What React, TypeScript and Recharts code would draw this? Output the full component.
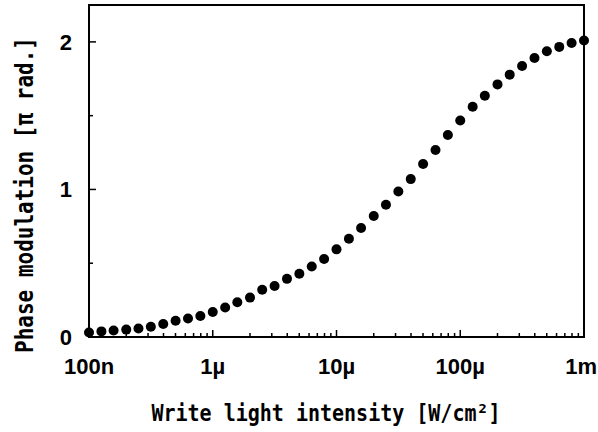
import { ScatterChart, Scatter, XAxis, YAxis, ReferenceArea } from "recharts";

// write light intensity [W/cm2], 10 points per decade
const intensity = [
  1.0e-7, 1.26e-7, 1.58e-7, 2.0e-7, 2.51e-7, 3.16e-7, 3.98e-7, 5.01e-7, 6.31e-7, 7.94e-7,
  1.0e-6, 1.26e-6, 1.58e-6, 2.0e-6, 2.51e-6, 3.16e-6, 3.98e-6, 5.01e-6, 6.31e-6, 7.94e-6,
  1.0e-5, 1.26e-5, 1.58e-5, 2.0e-5, 2.51e-5, 3.16e-5, 3.98e-5, 5.01e-5, 6.31e-5, 7.94e-5,
  1.0e-4, 1.26e-4, 1.58e-4, 2.0e-4, 2.51e-4, 3.16e-4, 3.98e-4, 5.01e-4, 6.31e-4, 7.94e-4,
  1.0e-3,
];

// phase modulation [pi rad.]
const phase = [
  0.03, 0.038, 0.044, 0.05, 0.058, 0.069, 0.088, 0.11, 0.125, 0.142,
  0.169, 0.2, 0.236, 0.267, 0.32, 0.346, 0.394, 0.429, 0.478, 0.529,
  0.594, 0.666, 0.739, 0.82, 0.896, 0.986, 1.07, 1.172, 1.267, 1.369,
  1.467, 1.56, 1.635, 1.712, 1.778, 1.837, 1.891, 1.937, 1.966, 1.993,
  2.01,
];

const xMajorTicks = [1e-7, 1e-6, 1e-5, 1e-4, 1e-3];
const xMajorLabels = ["100n", "1µ", "10µ", "100µ", "1m"];
const yTicks = [0, 0.5, 1, 1.5, 2];
const yLabels = ["0", "", "1", "", "2"];

const xMinorTicks = xMajorTicks
  .slice(0, -1)
  .flatMap((d) => [2, 3, 4, 5, 6, 7, 8, 9].map((m) => d * m));
const xTicks = [...xMajorTicks, ...xMinorTicks].sort((a, b) => a - b);

const data = intensity.map((x, i) => ({ x, y: phase[i] }));

const tickFont = "'Liberation Sans', Arial, sans-serif";
const titleFont = "'DejaVu Sans Mono', monospace";

const majorIndex = (v: number) =>
  xMajorTicks.findIndex((t) => Math.abs(t - v) / t < 1e-6);

// eslint-disable-next-line @typescript-eslint/no-explicit-any
const XTick = ({ x, y, payload }: any) => {
  const idx = majorIndex(payload.value);
  const major = idx >= 0;
  const last = idx === xMajorTicks.length - 1;
  return (
    <g>
      <line x1={x} x2={x} y1={y} y2={y - (major ? 7 : 4)} stroke="#000" strokeWidth={1.5} />
      {major && (
        <text
          x={last ? 597 : x}
          y={y + 37}
          textAnchor={last ? "end" : "middle"}
          fontFamily={tickFont}
          fontWeight="bold"
          fontSize={22}
          fill="#000"
        >
          {xMajorLabels[idx]}
        </text>
      )}
    </g>
  );
};

// eslint-disable-next-line @typescript-eslint/no-explicit-any
const YTick = ({ x, y, payload }: any) => {
  const idx = yTicks.indexOf(payload.value);
  const label = yLabels[idx];
  return (
    <g>
      <line x1={x} x2={x + (label ? 7 : 4)} y1={y} y2={y} stroke="#000" strokeWidth={1.5} />
      {label && (
        <text
          x={x - 17}
          y={y + 8}
          textAnchor="end"
          fontFamily={tickFont}
          fontWeight="bold"
          fontSize={22}
          fill="#000"
        >
          {label}
        </text>
      )}
    </g>
  );
};

// eslint-disable-next-line @typescript-eslint/no-explicit-any
const Dot = ({ cx, cy }: any) => <circle cx={cx} cy={cy} r={5} fill="#000" />;

export default function App() {
  return (
    <div style={{ position: "absolute", left: 0, top: 0, width: 598, height: 432, background: "#fff" }}>
      <ScatterChart
        width={598}
        height={432}
        margin={{ top: 5, right: 14, left: 29, bottom: 65 }}
      >
        <XAxis
          dataKey="x"
          type="number"
          scale="log"
          domain={[1e-7, 1e-3]}
          ticks={xTicks}
          interval={0}
          tickSize={0}
          tickMargin={0}
          tick={<XTick />}
          tickLine={false}
          axisLine={{ stroke: "#000", strokeWidth: 2 }}
          height={30}
        />
        <YAxis
          dataKey="y"
          type="number"
          domain={[0, 2.25]}
          ticks={yTicks}
          interval={0}
          tickSize={0}
          tickMargin={0}
          tick={<YTick />}
          tickLine={false}
          axisLine={{ stroke: "#000", strokeWidth: 2 }}
          width={60}
        />
        <ReferenceArea
          x1={1e-7}
          x2={1e-3}
          y1={0}
          y2={2.25}
          fill="none"
          fillOpacity={0}
          stroke="#000"
          strokeWidth={2}
          strokeOpacity={1}
        />
        <Scatter data={data} shape={<Dot />} isAnimationActive={false} />
      </ScatterChart>
      <svg
        width={598}
        height={432}
        style={{ position: "absolute", left: 0, top: 0, pointerEvents: "none" }}
      >
        <text
          transform="translate(326,421) scale(1,1.14)"
          textAnchor="middle"
          fontFamily={titleFont}
          fontWeight="bold"
          fontSize={20}
          fill="#000"
        >
          Write light intensity [W/cm²]
        </text>
        <text
          transform="translate(33,195) rotate(-90) scale(1,1.18)"
          textAnchor="middle"
          fontFamily={titleFont}
          fontWeight="bold"
          fontSize={21}
          fill="#000"
        >
          Phase modulation [π rad.]
        </text>
      </svg>
    </div>
  );
}
